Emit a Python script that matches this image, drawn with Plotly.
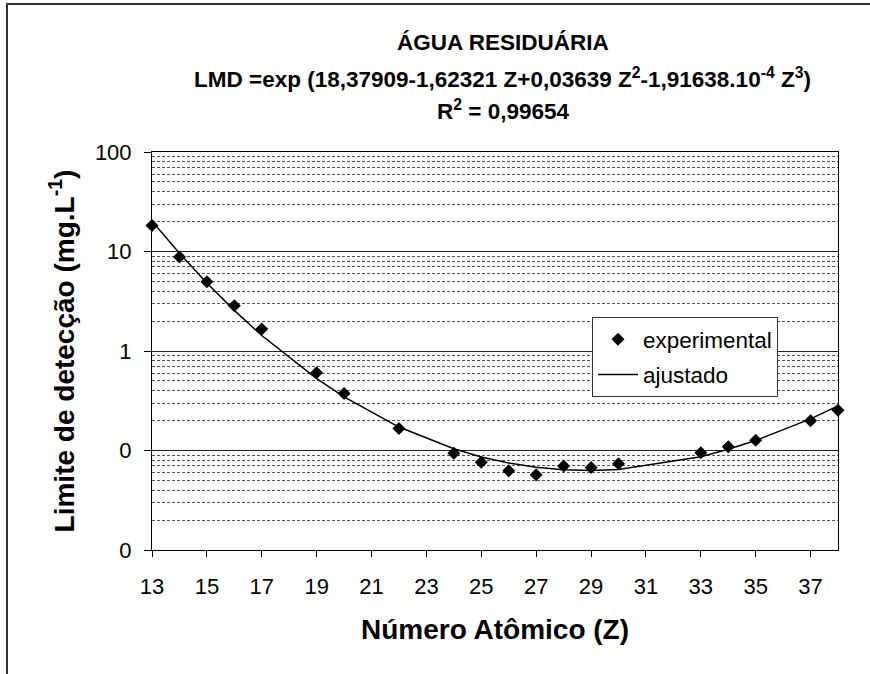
import plotly.graph_objects as go

# Data
z_exp = [13, 14, 15, 16, 17, 19, 20, 22, 24, 25, 26, 27, 28, 29, 30, 33, 34, 35, 37, 38]
lmd_exp = [18.3, 8.8, 4.97, 2.85, 1.66, 0.604, 0.374, 0.166, 0.094, 0.076, 0.0625, 0.057,
           0.070, 0.0675, 0.0735, 0.095, 0.109, 0.127, 0.199, 0.254]
lmd_fit = [20.2, 9.59, 4.82, 2.56, 1.43, 0.528, 0.346, 0.172, 0.104, 0.0862, 0.0748, 0.0678,
           0.0641, 0.0630, 0.0645, 0.0867, 0.103, 0.126, 0.208, 0.281]

x_ticks = [13, 15, 17, 19, 21, 23, 25, 27, 29, 31, 33, 35, 37]
y_tickvals = [0.01, 0.1, 1, 10, 100]
y_ticktext = ["0", "0", "1", "10", "100"]

FONT = "Liberation Sans, Arial, sans-serif"

fig = go.Figure()
fig.add_trace(go.Scatter(
    x=z_exp, y=lmd_fit, mode="lines", name="ajustado",
    line=dict(color="black", width=1.5), legendrank=2, legendgroup="b",
    cliponaxis=False))
fig.add_trace(go.Scatter(
    x=z_exp, y=lmd_exp, mode="markers", name="experimental",
    marker=dict(symbol="diamond", size=10, color="black"), legendrank=1, legendgroup="a",
    cliponaxis=False))

L, R, T, B = 152, 32, 152, 124
W, H = 870, 674
pw, ph = W - L - R, H - T - B

def px(x):
    return (x - L) / pw

def py(y):
    return (H - B - y) / ph

fig.update_layout(
    width=W, height=H,
    margin=dict(l=L, r=R, t=T, b=B),
    paper_bgcolor="white", plot_bgcolor="white",
    font=dict(family=FONT, color="black"),
    showlegend=True,
    legend=dict(x=px(592), y=py(317), xanchor="left", yanchor="top",
                bgcolor="white", bordercolor="#333", borderwidth=1,
                font=dict(size=22.5, family=FONT), tracegroupgap=3,
                itemwidth=40),
    xaxis=dict(range=[13, 38], tickvals=x_ticks, ticks="outside", ticklen=6,
               tickcolor="black", tickfont=dict(size=22, family=FONT),
               showgrid=False, zeroline=False, showline=True, linecolor="black",
               linewidth=1, mirror=True, ticklabelstandoff=11,
               title=dict(text="<b>Número Atômico (Z)</b>", font=dict(size=28, family=FONT),
                          standoff=20)),
    yaxis=dict(type="log", range=[-2, 2], tickvals=y_tickvals, ticktext=y_ticktext,
               ticks="outside", ticklen=7, tickcolor="black",
               tickfont=dict(size=22, family=FONT), ticklabelstandoff=8,
               showgrid=True, gridcolor="#222", gridwidth=1,
               minor=dict(showgrid=True, gridcolor="#555", griddash="3px,2px",
                          gridwidth=1, dtick="D1", ticks=""),
               zeroline=False, showline=True, linecolor="black", linewidth=1, mirror=True,
               title=dict(text="<b>Limite de detecção (mg.L<sup>-1</sup>)</b>",
                          font=dict(size=28, family=FONT), standoff=12)),
)

title_lines = [
    ("<b>ÁGUA RESIDUÁRIA</b>", 43),
    ("<b>LMD =exp (18,37909-1,62321 Z+0,03639 Z<sup>2</sup>-1,91638.10<sup>-4</sup> Z<sup>3</sup>)</b>", 78),
    ("<b>R<sup>2</sup> = 0,99654</b>", 110),
]
for txt, yc in title_lines:
    fig.add_annotation(text=txt, xref="paper", yref="paper", x=px(503), y=py(yc),
                       xanchor="center", yanchor="middle", showarrow=False,
                       font=dict(size=22.5, family=FONT, color="black"))

# outer chart frame (top and left edges visible)
fig.add_shape(type="line", xref="paper", yref="paper", x0=px(7), x1=px(872), y0=py(4), y1=py(4),
              line=dict(color="#333", width=2))
fig.add_shape(type="line", xref="paper", yref="paper", x0=px(7), x1=px(7), y0=py(3), y1=py(676),
              line=dict(color="#333", width=2))

fig.write_html("out.html", config={"displayModeBar": False},
               post_script="document.body.style.margin='0';document.body.style.overflow='hidden';")
